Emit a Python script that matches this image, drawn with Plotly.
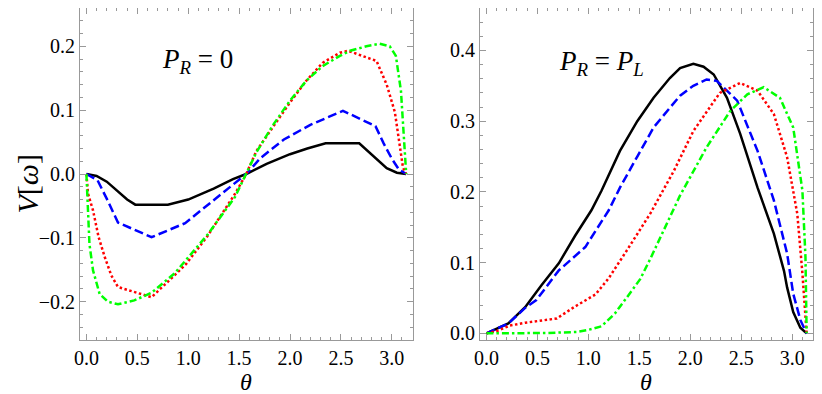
import plotly.graph_objects as go

PI = 3.14159

# P_R = 0 panel
th_l_black = [0, 0.1, 0.2, 0.3, 0.4, 0.48, 0.8, 1.0, 1.25, 1.44, 1.57, 1.77, 2.0, 2.17, 2.35, 2.68, 2.82, 2.95, 3.05, PI]
v_l_black = [0, -0.003, -0.012, -0.026, -0.040, -0.048, -0.048, -0.040, -0.023, -0.008, 0, 0.016, 0.031, 0.040, 0.048, 0.048, 0.027, 0.009, 0.002, 0]

th_l_blue = [0, 0.11, 0.21, 0.31, 0.64, 0.97, 1.25, 1.38, 1.57, 1.71, 1.94, 2.2, 2.52, 2.84, 2.92, 3.0, 3.07, PI]
v_l_blue = [0, -0.010, -0.042, -0.076, -0.099, -0.077, -0.041, -0.024, 0, 0.025, 0.054, 0.077, 0.099, 0.075, 0.048, 0.024, 0.007, 0]

th_l_red = [0, 0.016, 0.065, 0.12, 0.18, 0.245, 0.31, 0.64, 0.87, 0.98, 1.19, 1.46, 1.57, 1.67, 1.83, 2.0, 2.16, 2.32, 2.49, 2.57, 2.85, 2.95, 3.03, 3.08, 3.11, PI]
v_l_red = [0, -0.031, -0.057, -0.099, -0.130, -0.159, -0.177, -0.193, -0.158, -0.141, -0.097, -0.031, 0, 0.036, 0.073, 0.112, 0.146, 0.174, 0.190, 0.193, 0.177, 0.14, 0.097, 0.04, 0.01, 0]

th_l_green = [0, 0.016, 0.03, 0.065, 0.13, 0.21, 0.31, 0.47, 0.64, 0.87, 1.19, 1.46, 1.57, 1.67, 1.83, 2.0, 2.16, 2.32, 2.49, 2.59, 2.75, 2.88, 2.98, 3.04, 3.09, 3.12, PI]
v_l_green = [0, -0.057, -0.11, -0.151, -0.188, -0.200, -0.204, -0.198, -0.186, -0.155, -0.095, -0.036, 0, 0.034, 0.076, 0.115, 0.146, 0.169, 0.185, 0.193, 0.200, 0.204, 0.200, 0.185, 0.13, 0.06, 0]

# P_R = P_L panel
th_r_black = [0, 0.215, 0.38, 0.54, 0.71, 0.87, 1.03, 1.13, 1.31, 1.48, 1.64, 1.80, 1.90, 2.03, 2.13, 2.23, 2.36, 2.49, 2.66, 2.82, 2.92, 2.95, 3.01, 3.08, PI]
v_r_black = [0, 0.014, 0.037, 0.068, 0.099, 0.138, 0.174, 0.202, 0.258, 0.300, 0.333, 0.361, 0.375, 0.381, 0.377, 0.366, 0.333, 0.282, 0.206, 0.141, 0.088, 0.065, 0.030, 0.008, 0]

th_r_blue = [0, 0.215, 0.38, 0.49, 0.71, 0.97, 1.2, 1.31, 1.48, 1.64, 1.80, 1.90, 2.03, 2.16, 2.26, 2.46, 2.66, 2.82, 2.95, 3.01, 3.08, PI]
v_r_blue = [0, 0.014, 0.036, 0.047, 0.089, 0.122, 0.174, 0.206, 0.25, 0.291, 0.319, 0.336, 0.350, 0.359, 0.357, 0.329, 0.258, 0.188, 0.113, 0.056, 0.019, 0]

th_r_red = [0, 0.1, 0.23, 0.38, 0.69, 0.87, 1.07, 1.2, 1.39, 1.51, 1.61, 1.84, 2.03, 2.29, 2.49, 2.66, 2.82, 2.95, 3.05, 3.10, PI]
v_r_red = [0, 0.003, 0.011, 0.015, 0.021, 0.038, 0.055, 0.078, 0.12, 0.147, 0.170, 0.23, 0.286, 0.340, 0.354, 0.343, 0.31, 0.249, 0.169, 0.085, 0]

th_r_green = [0, 0.3, 0.6, 0.89, 1.0, 1.13, 1.26, 1.43, 1.51, 1.61, 1.84, 1.90, 2.16, 2.39, 2.56, 2.72, 2.88, 3.01, 3.10, 3.13, PI]
v_r_green = [0, 0, 0.0005, 0.002, 0.005, 0.010, 0.028, 0.061, 0.077, 0.106, 0.178, 0.195, 0.263, 0.314, 0.338, 0.348, 0.333, 0.291, 0.202, 0.108, 0]

STYLES = [
    ("black", "solid"),
    ("#0000ff", "9px,4px"),
    ("#ff0000", "2.5px,2.5px"),
    ("#00ff00", "7px,3px,2.5px,3px"),
]

FONT = "Liberation Serif, Times New Roman, serif"
GRAY = "#999999"

fig = go.Figure()

left = [(th_l_black, v_l_black), (th_l_blue, v_l_blue), (th_l_red, v_l_red), (th_l_green, v_l_green)]
right = [(th_r_black, v_r_black), (th_r_blue, v_r_blue), (th_r_red, v_r_red), (th_r_green, v_r_green)]

for (x, y), (c, d) in zip(left, STYLES):
    fig.add_trace(go.Scatter(x=x, y=y, mode="lines", line=dict(color=c, dash=d, width=2.5),
                             xaxis="x", yaxis="y", showlegend=False))
for (x, y), (c, d) in zip(right, STYLES):
    fig.add_trace(go.Scatter(x=x, y=y, mode="lines", line=dict(color=c, dash=d, width=2.5),
                             xaxis="x2", yaxis="y2", showlegend=False))


def xax(domain, anchor):
    return dict(
        domain=domain, anchor=anchor, range=[-0.063, 3.204], automargin=False,
        tick0=0, dtick=0.5, tickformat=".1f",
        ticks="inside", ticklen=6, tickcolor=GRAY, tickwidth=1,
        minor=dict(dtick=0.1, ticks="inside", ticklen=3, tickcolor=GRAY),
        showline=True, linecolor=GRAY, linewidth=1, mirror="ticks",
        showgrid=False, zeroline=False,
        tickfont=dict(family=FONT, size=20, color="black"),
    )


def yax(domain, anchor, rng):
    return dict(
        domain=domain, anchor=anchor, range=rng, automargin=False,
        tick0=0, dtick=0.1, tickformat=".1f",
        ticks="inside", ticklen=6, tickcolor=GRAY, tickwidth=1,
        minor=dict(dtick=0.02, ticks="inside", ticklen=3, tickcolor=GRAY),
        showline=True, linecolor=GRAY, linewidth=1, mirror="ticks",
        showgrid=False, zeroline=False,
        tickfont=dict(family=FONT, size=20, color="black"),
    )


def label(text, x, y, size, **kw):
    return dict(text=text, x=x, y=y, xref="paper", yref="paper", showarrow=False,
                xanchor="center", yanchor="middle",
                font=dict(family=FONT, size=size, color="black"), **kw)


# page body keeps an 8px margin, so the figure is sized to fill the rest of the window
fig.update_layout(
    width=814, height=386,
    margin=dict(l=72, r=9, t=0, b=54),
    plot_bgcolor="white", paper_bgcolor="white",
    xaxis=xax([0, 0.4537], "y"),
    yaxis=yax([0, 1], "x", [-0.26, 0.26]),
    xaxis2=xax([0.5457, 1], "y2"),
    yaxis2=yax([0, 1], "x2", [-0.0094, 0.46]),
    annotations=[
        label("<i>θ</i>", 0.2268, -0.125, 24),
        label("<i>θ</i>", 0.7728, -0.125, 24),
        label("<i>V</i>[<i>ω</i>]", -0.071, 0.471, 30, textangle=-90),
        dict(text="<i>P</i><sub><i>R</i></sub> = 0", x=0.72, y=0.177, xref="x", yref="y",
             xanchor="left", yanchor="middle", showarrow=False,
             font=dict(family=FONT, size=27, color="black")),
        dict(text="<i>P</i><sub><i>R</i></sub> = <i>P</i><sub><i>L</i></sub>", x=0.69, y=0.382,
             xref="x2", yref="y2", xanchor="left", yanchor="middle", showarrow=False,
             font=dict(family=FONT, size=27, color="black")),
    ],
)

fig.write_html("out.html")
